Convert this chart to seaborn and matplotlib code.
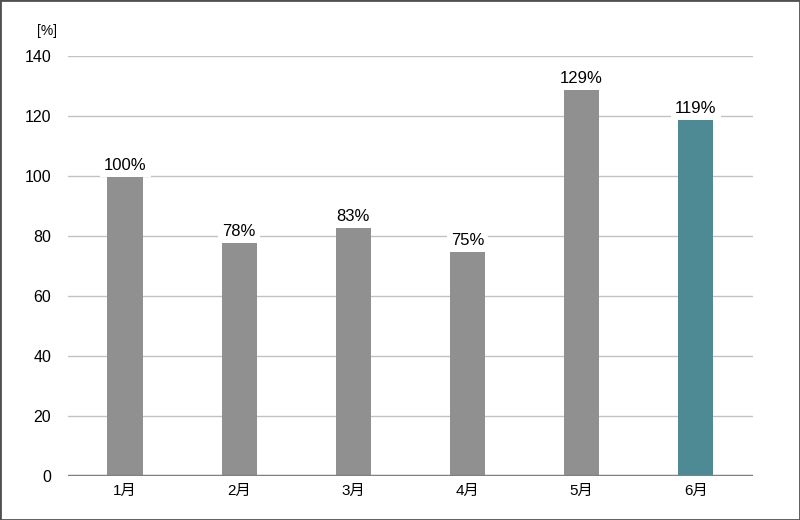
import matplotlib
matplotlib.use("Agg")
import matplotlib.pyplot as plt
import seaborn as sns
import pandas as pd
from matplotlib.patches import Rectangle

months = ["1月", "2月", "3月", "4月", "5月", "6月"]
values = [100, 78, 83, 75, 129, 119]
labels = ["100%", "78%", "83%", "75%", "129%", "119%"]
colors = ["#909090", "#909090", "#909090", "#909090", "#909090", "#4e8a94"]
yticks = [0, 20, 40, 60, 80, 100, 120, 140]

sns.set_theme(style="white")
plt.rcParams["font.family"] = ["Liberation Sans", "Noto Sans CJK JP", "DejaVu Sans"]

df = pd.DataFrame({"month": months, "value": values})

fig = plt.figure(figsize=(8, 5.2), dpi=100)
ax = fig.add_axes([0.085, 0.0846, 0.856, 0.8077])

sns.barplot(data=df, x="month", y="value", hue="month", palette=colors,
            width=0.31, legend=False, ax=ax, saturation=1, zorder=3,
            linewidth=0, edgecolor="none")

ax.set_ylim(0, 140)
ax.set_xlim(-0.5, 5.5)
ax.set_yticks(yticks)
ax.set_yticklabels([str(t) for t in yticks])
ax.tick_params(axis="y", length=0, pad=12, labelsize=11.5, colors="#000000")
ax.tick_params(axis="x", length=0, pad=6, labelsize=11, colors="#000000")
ax.set_xlabel("")
ax.set_ylabel("")

for t in yticks[1:]:
    ax.axhline(t, color="#c2c2c2", linewidth=1, zorder=1)
ax.axhline(0, color="#808080", linewidth=2.5, zorder=4)

for s in ax.spines.values():
    s.set_visible(False)

for i, (v, lab) in enumerate(zip(values, labels)):
    ax.annotate(lab, xy=(i, v), xytext=(0, 2), textcoords="offset points",
                ha="center", va="bottom", fontsize=12, color="#000000",
                bbox=dict(boxstyle="square,pad=0.25", fc="white", ec="none"),
                zorder=5)

fig.text(0.059, 0.94, "[%]", ha="center", va="center", fontsize=10, color="#000000")

fig.patches.append(Rectangle((0, 0), 1, 1, transform=fig.transFigure,
                             fill=False, edgecolor="#505050", linewidth=2.0,
                             zorder=10))

fig.savefig("out.png", dpi=100)
